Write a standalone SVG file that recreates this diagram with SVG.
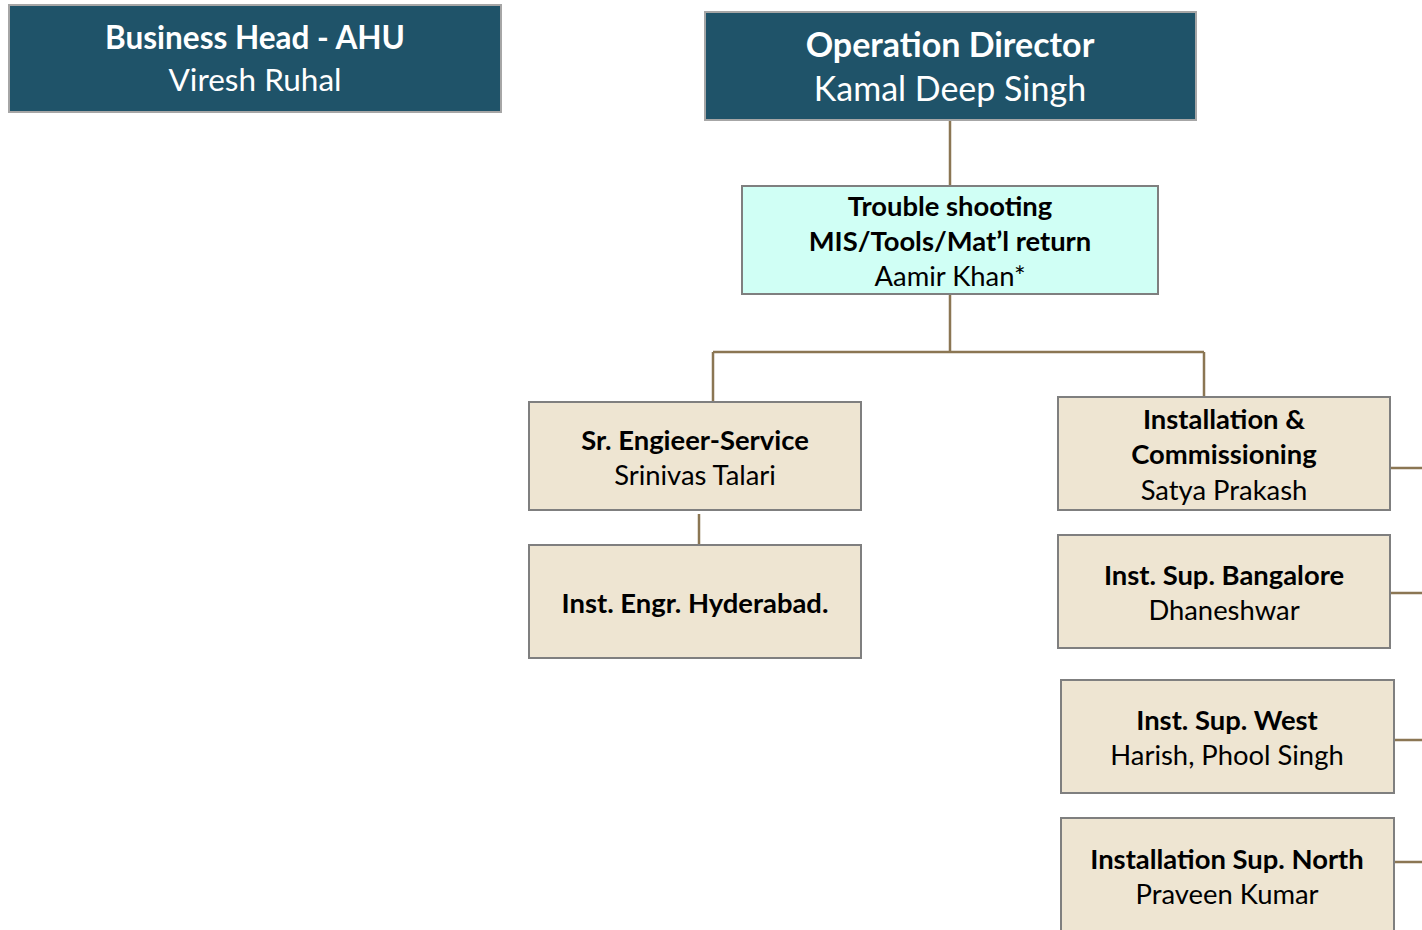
<svg xmlns="http://www.w3.org/2000/svg" width="1422" height="930" viewBox="0 0 1422 930">
<style>
.dark{fill:#1F5369;stroke:#A6A6A6;stroke-width:2}
.cyan{fill:#D0FFF5;stroke:#7F7F7F;stroke-width:2}
.tan{fill:#EEE5D2;stroke:#7F7F7F;stroke-width:2}
text{font-family:Lato,"Open Sans","Liberation Sans",sans-serif;text-anchor:middle}
.tw{fill:#FFFFFF;font-size:34px}
.tw2{fill:#FFFFFF;font-size:31.5px}
.tk{fill:#000000;font-size:27.4px}
.b{font-weight:bold}
.conn{stroke:#8B7653;stroke-width:2.5;fill:none}
</style>
<rect width="1422" height="930" fill="#FFFFFF"/>
<g id="connectors">
<path class="conn" d="M950,120 V186"/>
<path class="conn" d="M950,294 V352 M713,352 H1204 M713,352 V402 M1204,352 V397"/>
<path class="conn" d="M699,514 V545"/>
<path class="conn" d="M1390,468 H1422 M1390,593 H1422 M1394,740 H1422 M1394,862 H1422"/>
</g>
<g id="business-head">
<rect class="dark" x="9" y="5" width="492" height="107"/>
<text class="tw2 b" x="255" y="49">Business Head - AHU</text>
<text class="tw2" x="255" y="91">Viresh Ruhal</text>
</g>
<g id="operation-director">
<rect class="dark" x="705" y="12" width="491" height="108"/>
<text class="tw b" x="950" y="57">Operation Director</text>
<text class="tw" x="950" y="101">Kamal Deep Singh</text>
</g>
<g id="trouble-shooting">
<rect class="cyan" x="742" y="186" width="416" height="108"/>
<text class="tk b" x="950" y="216">Trouble shooting</text>
<text class="tk b" x="950" y="251">MIS/Tools/Mat’l return</text>
<text class="tk" x="950" y="286">Aamir Khan*</text>
</g>
<g id="sr-engineer">
<rect class="tan" x="529" y="402" width="332" height="108"/>
<text class="tk b" x="695" y="450">Sr. Engieer-Service</text>
<text class="tk" x="695" y="485">Srinivas Talari</text>
</g>
<g id="inst-engr-hyderabad">
<rect class="tan" x="529" y="545" width="332" height="113"/>
<text class="tk b" x="695" y="613">Inst. Engr. Hyderabad.</text>
</g>
<g id="installation-commissioning">
<rect class="tan" x="1058" y="397" width="332" height="113"/>
<text class="tk b" x="1224" y="429">Installation &amp;</text>
<text class="tk b" x="1224" y="464">Commissioning</text>
<text class="tk" x="1224" y="500">Satya Prakash</text>
</g>
<g id="inst-sup-bangalore">
<rect class="tan" x="1058" y="535" width="332" height="113"/>
<text class="tk b" x="1224" y="585">Inst. Sup. Bangalore</text>
<text class="tk" x="1224" y="620">Dhaneshwar</text>
</g>
<g id="inst-sup-west">
<rect class="tan" x="1061" y="680" width="333" height="113"/>
<text class="tk b" x="1227" y="730">Inst. Sup. West</text>
<text class="tk" x="1227" y="765">Harish, Phool Singh</text>
</g>
<g id="installation-sup-north">
<rect class="tan" x="1061" y="818" width="333" height="124"/>
<text class="tk b" x="1227" y="869">Installation Sup. North</text>
<text class="tk" x="1227" y="904">Praveen Kumar</text>
</g>
</svg>
